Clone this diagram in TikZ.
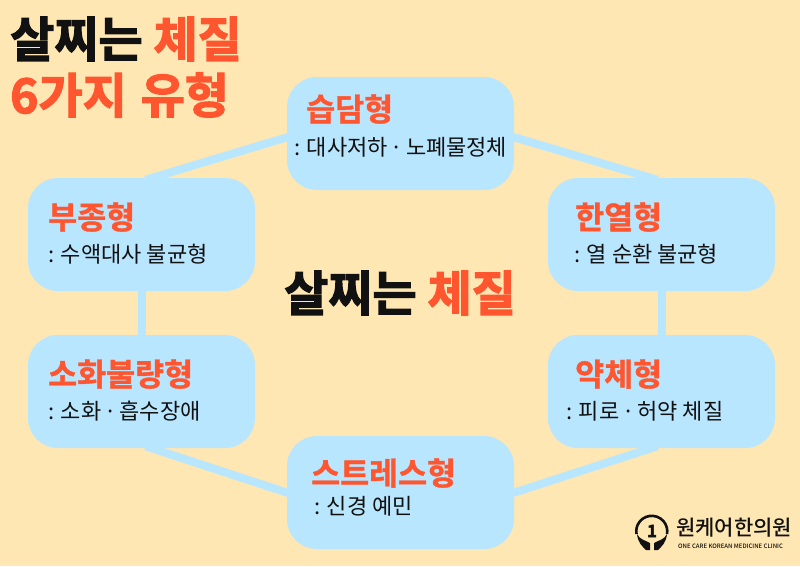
\documentclass[tikz,border=0pt]{standalone}
\usepackage{fontspec}
\usetikzlibrary{backgrounds}
\setmainfont{Noto Sans CJK KR}
\newfontfamily\krb[FakeBold=2.5]{Noto Sans CJK KR Bold}
\newfontfamily\krt[FakeBold=1.2]{Noto Sans CJK KR Bold}
\newfontfamily\krr{Noto Sans CJK KR}
\newfontfamily\krm{Noto Sans CJK KR Medium}
\newcommand{\mdt}{\hspace{-2pt}·\hspace{-2pt}}
\definecolor{bg}{HTML}{FEE7B2}
\definecolor{bx}{HTML}{B9E6FF}
\definecolor{rd}{HTML}{FF5630}
\definecolor{ink}{HTML}{111111}
\tikzset{
 card/.style={fill=bx,draw=none,rounded corners=30pt,minimum width=227pt,minimum height=113pt,inner sep=0pt},
 link/.style={draw=bx,line width=8pt},
 ttl/.style={anchor=west,inner sep=0pt,text=rd,font=\krt\fontsize{31.5}{31.5}\selectfont},
 sub/.style={anchor=west,inner sep=0pt,text=ink,font=\krr\fontsize{22}{22}\selectfont},
 big/.style={anchor=west,inner sep=0pt,font=\krb\fontsize{48}{48}\selectfont},
}
\begin{document}
\begin{tikzpicture}[x=1pt,y=-1pt]
\useasboundingbox (0,0) rectangle (800,566);
\node[card] (top) at (400.5,133.5) {};
\node[card] (lt) at (141.5,234.5) {};
\node[card] (rt) at (661.5,234.5) {};
\node[card] (lb) at (141.5,391.5) {};
\node[card] (rb) at (661.5,391.5) {};
\node[card] (bot) at (400.5,492.5) {};
\begin{scope}[on background layer]
\fill[bg] (0,0) rectangle (800,566);
\draw[link] ([xshift=6pt,yshift=-2pt]top.west) -- ([xshift=4pt,yshift=-2pt]lt.north);
\draw[link] ([xshift=-6pt,yshift=-2pt]top.east) -- ([xshift=-4pt,yshift=-2pt]rt.north);
\draw[link] ([xshift=0.5pt,yshift=5pt]lt.south) -- ([xshift=0.5pt,yshift=-5pt]lb.north);
\draw[link] ([xshift=0.5pt,yshift=5pt]rt.south) -- ([xshift=0.5pt,yshift=-5pt]rb.north);
\draw[link] ([xshift=4pt,yshift=2pt]lb.south) -- ([xshift=6pt,yshift=-2pt]bot.west);
\draw[link] ([xshift=-4pt,yshift=2pt]rb.south) -- ([xshift=-6pt,yshift=-2pt]bot.east);
\end{scope}
\node[ttl] (t1) at (306,109) {습담형};
\node[sub] (s1) at (294,147) {: 대사저하 \mdt{} 노폐물정체};
\node[ttl] (t2) at (48,217) {부종형};
\node[sub] (s2) at (48,254) {: 수액대사 불균형};
\node[ttl] (t3) at (575,217) {한열형};
\node[sub] (s3) at (574,254) {: 열 순환 불균형};
\node[ttl] (t4) at (48,374) {소화불량형};
\node[sub] (s4) at (48,411) {: 소화 \mdt{} 흡수장애};
\node[ttl] (t5) at (575,374) {약체형};
\node[sub] (s5) at (566,411) {: 피로 \mdt{} 허약 체질};
\node[ttl] (t6) at (311,473) {스트레스형};
\node[sub] (s6) at (314,506) {: 신경 예민};
\node[big,text=ink] (c1) at (284,293) {살찌는 \textcolor{rd}{체질}};
\node[big,text=ink] (h1) at (10,39) {살찌는 \textcolor{rd}{체질}};
\node[big,text=rd] (h2) at (10,95) {6가지\hspace{3pt} 유형};
% logo
\draw[ink,line width=2.6pt] (636.5,534) arc (-190:10:15.5);
\node[inner sep=0pt,text=ink,font=\krb\fontsize{17}{17}\selectfont] (one) at (652,531) {1};
\fill[ink] (637,534) .. controls (640,540) and (645,540) .. (650,543) -- (650,550) -- (646,550) .. controls (642,546) and (638,543) .. cycle;
\fill[ink] (667,534) .. controls (664,540) and (659,540) .. (654,543) -- (654,550) -- (658,550) .. controls (662,546) and (666,543) .. cycle;
\node[anchor=west,inner sep=0pt,text=ink,font=\krm\fontsize{21}{21}\selectfont] (lg) at (676,528) {원케어한의원};
\node[anchor=west,inner sep=0pt,text=ink,font=\krm\fontsize{6}{6}\selectfont] (lg2) at (678,546) {ONE CARE KOREAN MEDICINE CLINIC};
\end{tikzpicture}
\end{document}
